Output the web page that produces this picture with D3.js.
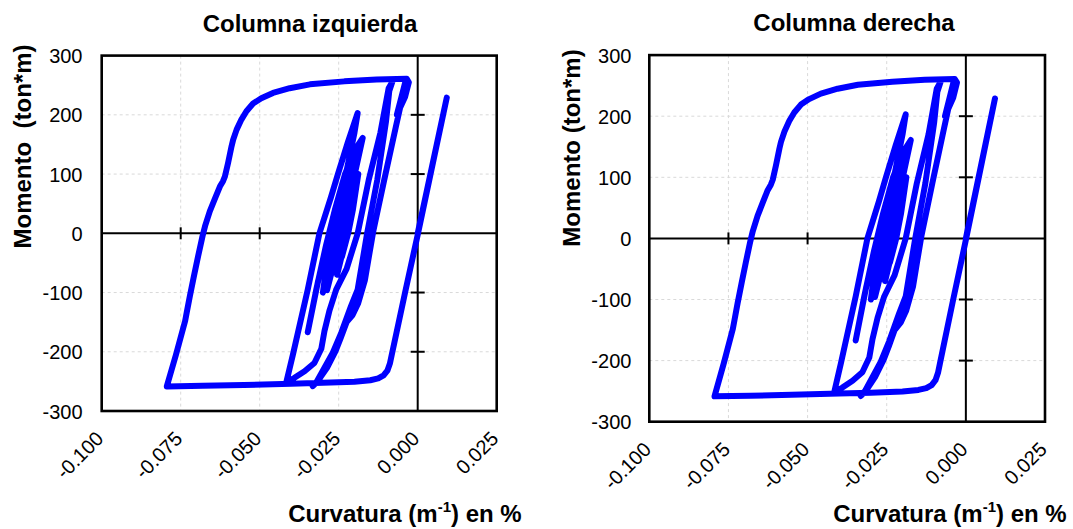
<!DOCTYPE html>
<html><head><meta charset="utf-8">
<script src="https://cdn.jsdelivr.net/npm/d3@7"></script>
<style>
body{margin:0;background:#fff}
svg{display:block}
text{font-family:"Liberation Sans",Arial,sans-serif;fill:#000}
</style>
</head><body>
<svg id="chart" width="1073" height="529"></svg>
<script>
// ---- data: [curvature (%), moment (ton*m)], in drawing order ----
const firstCycle = [
 [0.0000,0],[0.0092,229],[0.0040,98],[0.0001,0],[-0.0040,-100],[-0.0074,-185],[-0.0082,-205],
 [-0.0088,-220],[-0.0096,-232],[-0.0108,-240],[-0.0125,-245],[-0.0150,-248],[-0.0200,-250.5],
 [-0.0300,-252.5],[-0.0400,-254],[-0.0550,-256],[-0.0680,-257.5],[-0.0794,-258.5]
];
const leftBranch = [
 [-0.0765,-205],[-0.0736,-148],[-0.0731,-134],[-0.0721,-106],[-0.0708,-72],[-0.0695,-39],
 [-0.0681,-5],[-0.0673,12],[-0.0658,37],[-0.0642,58],[-0.0626,79],[-0.0616,88],[-0.0610,96],
 [-0.0600,119],[-0.0589,147],[-0.0584,158],[-0.0573,175],[-0.0558,192],[-0.0542,206],
 [-0.0521,219],[-0.0495,228],[-0.0458,237],[-0.0405,245],[-0.0341,251.5],[-0.0232,256.5],
 [-0.0130,259.5],[-0.0035,261]
];
const topReversal = [
 [-0.0028,255],[-0.0040,230],[-0.0066,200],[-0.0050,233],[-0.0038,258]
];
const descent1 = [
 [-0.0046,235],[-0.0069,180],[-0.0106,90],[-0.0124,45],[-0.0140,5],[-0.0153,-35],[-0.0167,-79],
 [-0.0189,-119],[-0.0206,-138],[-0.0225,-150],[-0.0243,-176],[-0.0260,-199],[-0.0287,-227],
 [-0.0309,-244],[-0.0332,-258]
];
const reload1 = [
 [-0.0321,-252],[-0.0269,-202],[-0.0242,-168],[-0.0211,-123],[-0.0190,-95],[-0.0160,0],
 [-0.0128,90],[-0.0100,190],[-0.0090,240],[-0.0080,256]
];
const descent2 = [
 [-0.0092,245],[-0.0118,170],[-0.0155,90],[-0.0190,0],[-0.0225,-60],[-0.0258,-95],
 [-0.0279,-130],[-0.0295,-165],[-0.0305,-195],[-0.0327,-219],[-0.0358,-233],[-0.0390,-244],
 [-0.0416,-252]
];
const innerRise = [
 [-0.0395,-205],[-0.0348,-95],[-0.0311,0],[-0.0275,60],[-0.0253,99],[-0.0222,152],[-0.0190,203],
 [-0.0200,170],[-0.0235,80],[-0.0277,0],[-0.0315,-80],[-0.0348,-167]
];
const innerCycles = [
 [-0.0321,-95],[-0.0290,-20],[-0.0262,40],[-0.0230,100],[-0.0200,140],[-0.0174,161],
 [-0.0195,110],[-0.0225,40],[-0.0255,-30],[-0.0287,-96],
 [-0.0270,-40],[-0.0245,20],[-0.0215,90],[-0.0185,144],
 [-0.0205,90],[-0.0235,20],[-0.0262,-40],[-0.0281,-62],
 [-0.0262,-10],[-0.0235,50],[-0.0200,128],
 [-0.0198,110],[-0.0215,50],[-0.0228,0],[-0.0255,-70],
 [-0.0232,-20],[-0.0210,40],[-0.0188,100],
 [-0.0205,40],[-0.0220,0],[-0.0240,-40],
 [-0.0222,20],[-0.0200,70],
 [-0.0222,10],[-0.0240,-30],[-0.0300,-100],
 [-0.0290,-60],[-0.0285,-30],[-0.0278,0],[-0.0260,40],[-0.0230,100],[-0.0205,130],
 [-0.0225,80],[-0.0250,20],[-0.0266,-20],[-0.0290,-85],
 [-0.0275,-40],[-0.0262,0],[-0.0240,50],[-0.0210,110],
 [-0.0232,50],[-0.0252,0],[-0.0275,-60],
 [-0.0258,-20],[-0.0240,25],[-0.0208,95],
 [-0.0238,20],[-0.0270,-60],
 [-0.0245,0],[-0.0215,70],
 [-0.0250,-5]
];
const xTicks = [-0.100, -0.075, -0.050, -0.025, 0.000, 0.025];
const yTicks = [-300, -200, -100, 0, 100, 200, 300];
const panelTitles = ["Columna izquierda", "Columna derecha"];
const yTitles = ["Momento\u00a0\u00a0(ton*m)", "Momento (ton*m)"];

const record = [].concat(firstCycle, leftBranch, topReversal, descent1, reload1, descent2, innerRise, innerCycles);

// ---- layout ----
const panels = [
  {l:101.7, r:496.7, t:55.6, b:411.0, tx:310, ty:32, yx:31, yy:146.5, ylab:82.5, xtx:521.7},
  {l:649.3, r:1045.0, t:55.1, b:421.7, tx:854, ty:31, yx:579.5, yy:148, ylab:631.4, xtx:1066.7}
];

const svg = d3.select("#chart");

panels.forEach((p, k) => {
  const x = d3.scaleLinear().domain([-0.1, 0.025]).range([p.l, p.r]);
  const y = d3.scaleLinear().domain([-300, 300]).range([p.b, p.t]);
  const g = svg.append("g");
  const innerX = xTicks.filter(d => d > -0.1 && d < 0.025 && d !== 0);
  const innerY = yTicks.filter(d => d > -300 && d < 300 && d !== 0);

  // dashed grid
  g.selectAll(".gx").data(innerX)
    .join("line").attr("x1", d => x(d)).attr("x2", d => x(d)).attr("y1", p.t).attr("y2", p.b)
    .attr("stroke", "#d9d9d9").attr("stroke-width", 1).attr("stroke-dasharray", "3,3");
  g.selectAll(".gy").data(innerY)
    .join("line").attr("y1", d => y(d)).attr("y2", d => y(d)).attr("x1", p.l).attr("x2", p.r)
    .attr("stroke", "#d9d9d9").attr("stroke-width", 1).attr("stroke-dasharray", "3,3");

  // zero axes with crossing ticks
  g.append("line").attr("x1", p.l).attr("x2", p.r).attr("y1", y(0)).attr("y2", y(0))
    .attr("stroke", "#000").attr("stroke-width", 2);
  g.append("line").attr("x1", x(0)).attr("x2", x(0)).attr("y1", p.t).attr("y2", p.b)
    .attr("stroke", "#000").attr("stroke-width", 2);
  g.selectAll(".tx").data(innerX)
    .join("line").attr("x1", d => x(d)).attr("x2", d => x(d)).attr("y1", y(0) - 6).attr("y2", y(0) + 6)
    .attr("stroke", "#000").attr("stroke-width", 2);
  g.selectAll(".ty").data(innerY)
    .join("line").attr("y1", d => y(d)).attr("y2", d => y(d)).attr("x1", x(0) - 7).attr("x2", x(0) + 7)
    .attr("stroke", "#000").attr("stroke-width", 2);

  // data line
  const line = d3.line().x(d => x(d[0])).y(d => y(d[1]));
  g.append("path").datum(record).attr("d", line)
    .attr("fill", "none").attr("stroke", "#0000ff").attr("stroke-width", 6)
    .attr("stroke-linejoin", "round").attr("stroke-linecap", "round");

  // plot border
  g.append("rect").attr("x", p.l).attr("y", p.t).attr("width", p.r - p.l).attr("height", p.b - p.t)
    .attr("fill", "none").attr("stroke", "#000").attr("stroke-width", 2.6);

  // y tick labels
  const ya = d3.axisLeft(y).tickValues(yTicks).tickSize(0).tickFormat(d => String(d));
  const yg = g.append("g").attr("transform", `translate(${p.ylab},0)`).call(ya);
  yg.select(".domain").remove();
  yg.selectAll("text").attr("x", 0).attr("dy", "0.35em")
    .style("font-family", '"Liberation Sans",Arial,sans-serif').style("font-size", "20px").attr("fill", "#000");

  // x tick labels (rotated)
  const xa = d3.axisBottom(x).tickValues(xTicks).tickSize(0).tickFormat(d => d.toFixed(3));
  const xg = g.append("g").attr("transform", `translate(0,${p.b})`).call(xa);
  xg.select(".domain").remove();
  xg.selectAll("text").attr("x", 0).attr("y", 0).attr("dy", 0)
    .attr("transform", "translate(2.5,29) rotate(-45)")
    .style("text-anchor", "end")
    .style("font-family", '"Liberation Sans",Arial,sans-serif').style("font-size", "20px").attr("fill", "#000");

  // titles
  g.append("text").attr("x", p.tx).attr("y", p.ty).attr("text-anchor", "middle")
    .style("font-size", "24px").style("font-weight", "bold").text(panelTitles[k]);
  g.append("text").attr("transform", `translate(${p.yx},${p.yy}) rotate(-90)`).attr("text-anchor", "middle")
    .style("font-size", "24px").style("font-weight", "bold").text(yTitles[k]);
  const xt = g.append("text").attr("x", p.xtx).attr("y", 521.5).attr("text-anchor", "end")
    .style("font-size", "24px").style("font-weight", "bold");
  xt.append("tspan").text("Curvatura (m");
  xt.append("tspan").attr("dy", -10).style("font-size", "15px").text("-1");
  xt.append("tspan").attr("dy", 10).text(") en %");
});
</script>
</body></html>
